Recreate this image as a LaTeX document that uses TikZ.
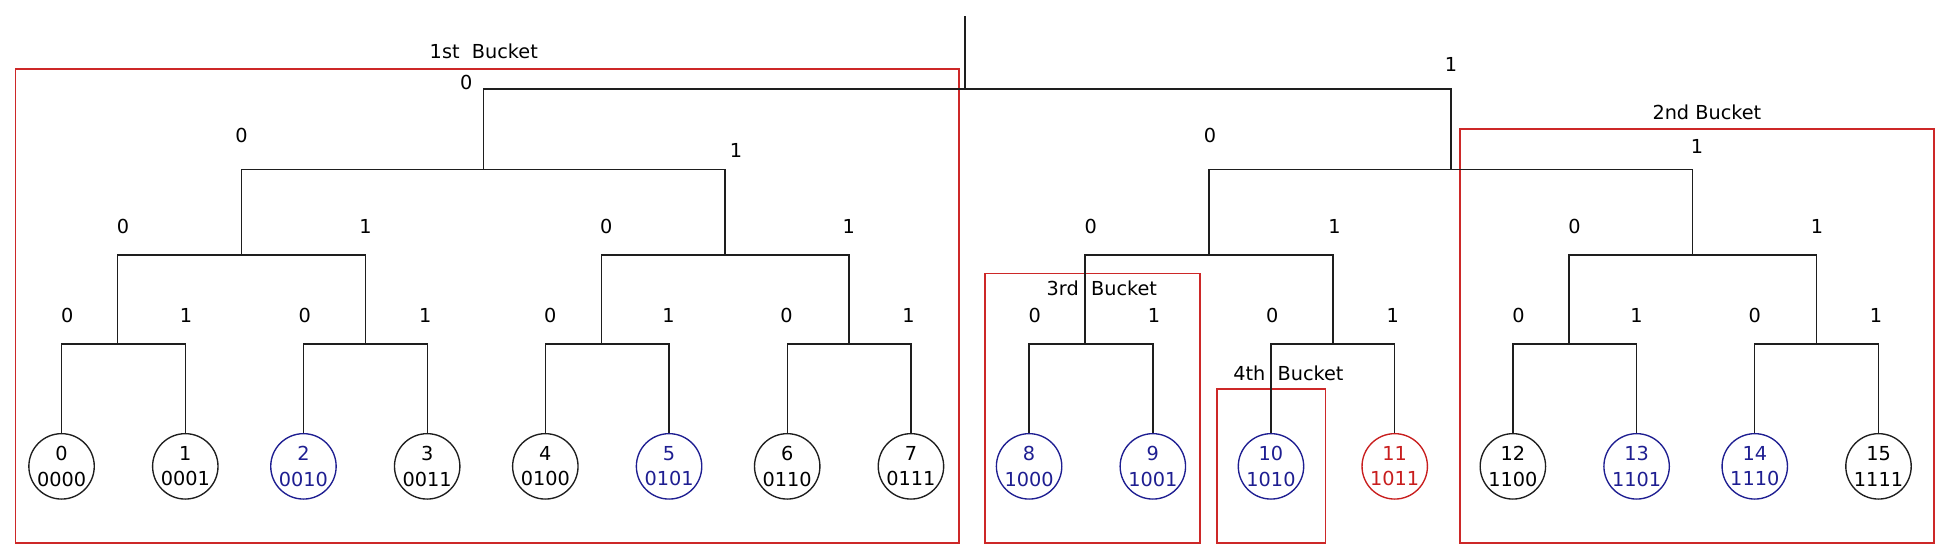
\documentclass[tikz,border=0pt]{standalone}
\usepackage{fontspec}
\setmainfont{DejaVu Sans}
\definecolor{treeline}{RGB}{30,30,30}
\definecolor{nodeblue}{RGB}{30,30,145}
\definecolor{nodered}{RGB}{200,30,30}
\definecolor{boxred}{RGB}{205,40,40}
\begin{document}
\begin{tikzpicture}[x=1pt,y=-1pt,
  font=\fontsize{15.5}{20.5}\selectfont,
  leaf/.style={circle,draw,line width=1.1pt,minimum size=52.6pt,inner sep=0pt,align=center},
  bleaf/.style={leaf,draw=nodeblue,text=nodeblue},
  rleaf/.style={leaf,draw=nodered,text=nodered},
  kleaf/.style={leaf,draw=treeline,text=black},
  branch/.style={draw=treeline,line width=1.1pt},
  bucket/.style={draw=boxred,line width=1.2pt},
  bit/.style={inner sep=0pt,anchor=center},
  blabel/.style={inner sep=0pt,anchor=center}]
\useasboundingbox (0,0) rectangle (1568,449);

% buckets
\draw[bucket] (12.6,55.5) rectangle (771,436.6);
\draw[bucket] (1174,103.7) rectangle (1555,436.6);
\draw[bucket] (792,220) rectangle (965,436.6);
\draw[bucket] (978.6,312.8) rectangle (1066,436.6);
\node[blabel] (b1) at (389,41.5) {1st~~Bucket};
\node[blabel] (b2) at (1372.5,90) {2nd Bucket};
\node[blabel] (b3) at (886,232) {3rd~~Bucket};
\node[blabel] (b4) at (1036,300) {4th~~Bucket};

% leaves
\node[kleaf] (l0)  at (49.5,375)  {0\\0000};
\node[kleaf] (l1)  at (149,375)   {1\\0001};
\node[bleaf] (l2)  at (244,375)   {2\\0010};
\node[kleaf] (l3)  at (343.5,375) {3\\0011};
\node[kleaf] (l4)  at (438.5,375) {4\\0100};
\node[bleaf] (l5)  at (538,375)   {5\\0101};
\node[kleaf] (l6)  at (633,375)   {6\\0110};
\node[kleaf] (l7)  at (732.5,375) {7\\0111};
\node[bleaf] (l8)  at (827.5,375) {8\\1000};
\node[bleaf] (l9)  at (927,375)   {9\\1001};
\node[bleaf] (l10) at (1022,375)  {10\\1010};
\node[rleaf] (l11) at (1121.5,375){11\\1011};
\node[kleaf] (l12) at (1216.5,375){12\\1100};
\node[bleaf] (l13) at (1316,375)  {13\\1101};
\node[bleaf] (l14) at (1411,375)  {14\\1110};
\node[kleaf] (l15) at (1510.5,375){15\\1111};

% junctions
\coordinate (j0) at (94.5,276.6);
\coordinate (j1) at (293.8,276.6);
\coordinate (j2) at (483.5,276.6);
\coordinate (j3) at (682.8,276.6);
\coordinate (j4) at (872.5,276.6);
\coordinate (j5) at (1071.8,276.6);
\coordinate (j6) at (1261.5,276.6);
\coordinate (j7) at (1460.8,276.6);
\coordinate (k0) at (194.1,205);
\coordinate (k1) at (583.1,205);
\coordinate (k2) at (972.1,205);
\coordinate (k3) at (1361.1,205);
\coordinate (m0) at (388.6,136.5);
\coordinate (m1) at (1166.7,136.5);
\coordinate (rt) at (776,71.6);
\coordinate (top) at (776,12.6);

% branches
\draw[branch] (l0.north) |- (j0) -| (l1.north);
\draw[branch] (l2.north) |- (j1) -| (l3.north);
\draw[branch] (l4.north) |- (j2) -| (l5.north);
\draw[branch] (l6.north) |- (j3) -| (l7.north);
\draw[branch] (l8.north) |- (j4) -| (l9.north);
\draw[branch] (l10.north) |- (j5) -| (l11.north);
\draw[branch] (l12.north) |- (j6) -| (l13.north);
\draw[branch] (l14.north) |- (j7) -| (l15.north);
\draw[branch] (j0) |- (k0) -| (j1);
\draw[branch] (j2) |- (k1) -| (j3);
\draw[branch] (j4) |- (k2) -| (j5);
\draw[branch] (j6) |- (k3) -| (j7);
\draw[branch] (k0) |- (m0) -| (k1);
\draw[branch] (k2) |- (m1) -| (k3);
\draw[branch] (m0) |- (rt) -| (m1);
\draw[branch] (rt) -- (top);

% bit labels level 1
\node[bit] (a0) at (375,66.5) {0};
\node[bit] (a1) at (1166.8,51.5) {1};
% level 2
\node[bit] (c0) at (194.2,108.6) {0};
\node[bit] (c1) at (591.8,120.6) {1};
\node[bit] (c2) at (973,108.6) {0};
\node[bit] (c3) at (1364.5,117.4) {1};
% level 3
\node[bit] (d0) at (99,182) {0};
\node[bit] (d1) at (294,182) {1};
\node[bit] (d2) at (487.5,182) {0};
\node[bit] (d3) at (682.5,182) {1};
\node[bit] (d4) at (877,182) {0};
\node[bit] (d5) at (1073,182) {1};
\node[bit] (d6) at (1266,182) {0};
\node[bit] (d7) at (1461,182) {1};
% level 4
\node[bit] (e0)  at (54,254) {0};
\node[bit] (e1)  at (149.5,254) {1};
\node[bit] (e2)  at (245,254) {0};
\node[bit] (e3)  at (342,254) {1};
\node[bit] (e4)  at (442.4,254) {0};
\node[bit] (e5)  at (537.5,254) {1};
\node[bit] (e6)  at (632.5,254) {0};
\node[bit] (e7)  at (730.5,254) {1};
\node[bit] (e8)  at (832,254) {0};
\node[bit] (e9)  at (928,254) {1};
\node[bit] (e10) at (1023,254) {0};
\node[bit] (e11) at (1120,254) {1};
\node[bit] (e12) at (1221,254) {0};
\node[bit] (e13) at (1316,254) {1};
\node[bit] (e14) at (1411,254) {0};
\node[bit] (e15) at (1508.5,254) {1};
\end{tikzpicture}
\end{document}
